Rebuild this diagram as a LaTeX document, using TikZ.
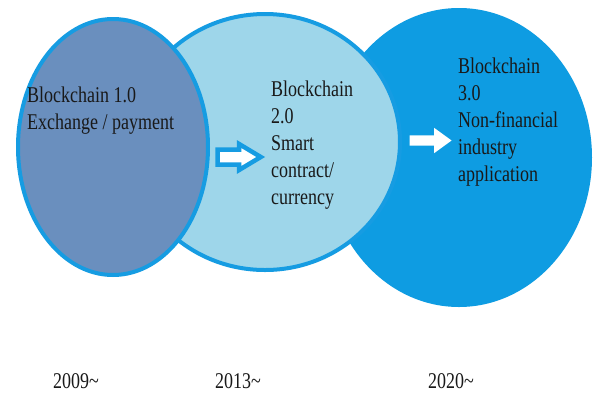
\documentclass[tikz,border=0pt]{standalone}
\usepackage{fontspec}
\setmainfont{Liberation Serif}
\newfontfamily\erafont[FakeStretch=0.8]{Liberation Serif}
\usetikzlibrary{shapes.geometric,shapes.arrows}

\definecolor{rimblue}{RGB}{22,156,226}
\definecolor{eraone}{RGB}{106,143,190}
\definecolor{eratwo}{RGB}{158,214,234}
\definecolor{erathree}{RGB}{14,156,226}

\tikzset{
  era/.style={ellipse,inner sep=0,draw=rimblue,line width=4pt},
  eratext/.style={anchor=north west,align=left,inner sep=0,text=black!90,
    font=\erafont\fontsize{22.5}{27}\selectfont},
  year/.style={anchor=base west,inner sep=0,text=black!90,
    font=\erafont\fontsize{22.5}{27}\selectfont},
}

\begin{document}
\begin{tikzpicture}[x=1pt,y=-1pt]
    \useasboundingbox[fill=white] (0,0) rectangle (595,392);
    % the three eras, back to front
    \node[era,draw=none,fill=erathree,minimum width=266pt,minimum height=299pt] (era3) at (459,157.5) {};
    \node[era,fill=eratwo,minimum width=270pt,minimum height=256pt] (era2) at (265,142) {};
    \node[era,fill=eraone,minimum width=190pt,minimum height=256pt] (era1) at (113,147) {};
    % arrows between eras
    \node[single arrow,draw=rimblue,line width=4.5pt,fill=white,inner xsep=0,inner ysep=5.25pt,
      minimum height=43pt,single arrow head extend=5.5pt,
      single arrow tip angle=62] (step12) at (233,157) {};
    \node[single arrow,fill=white,inner xsep=0,inner ysep=5pt,
      minimum height=42pt,single arrow head extend=7.5pt,
      single arrow tip angle=72] (step23) at (427,140.5) {};
    % era texts
    \node[eratext] (text1) at (27,86.5) {Blockchain 1.0\\Exchange / payment};
    \node[eratext] (text2) at (271,80.5) {Blockchain\\2.0\\Smart\\contract/\\currency};
    \node[eratext] (text3) at (458,57.5) {Blockchain\\3.0\\Non-financial\\industry\\application};
    % years
    \node[year] (year1) at (53,388) {2009\textasciitilde};
    \node[year] (year2) at (215,388) {2013\textasciitilde};
    \node[year] (year3) at (428,388) {2020\textasciitilde};
\end{tikzpicture}
\end{document}
